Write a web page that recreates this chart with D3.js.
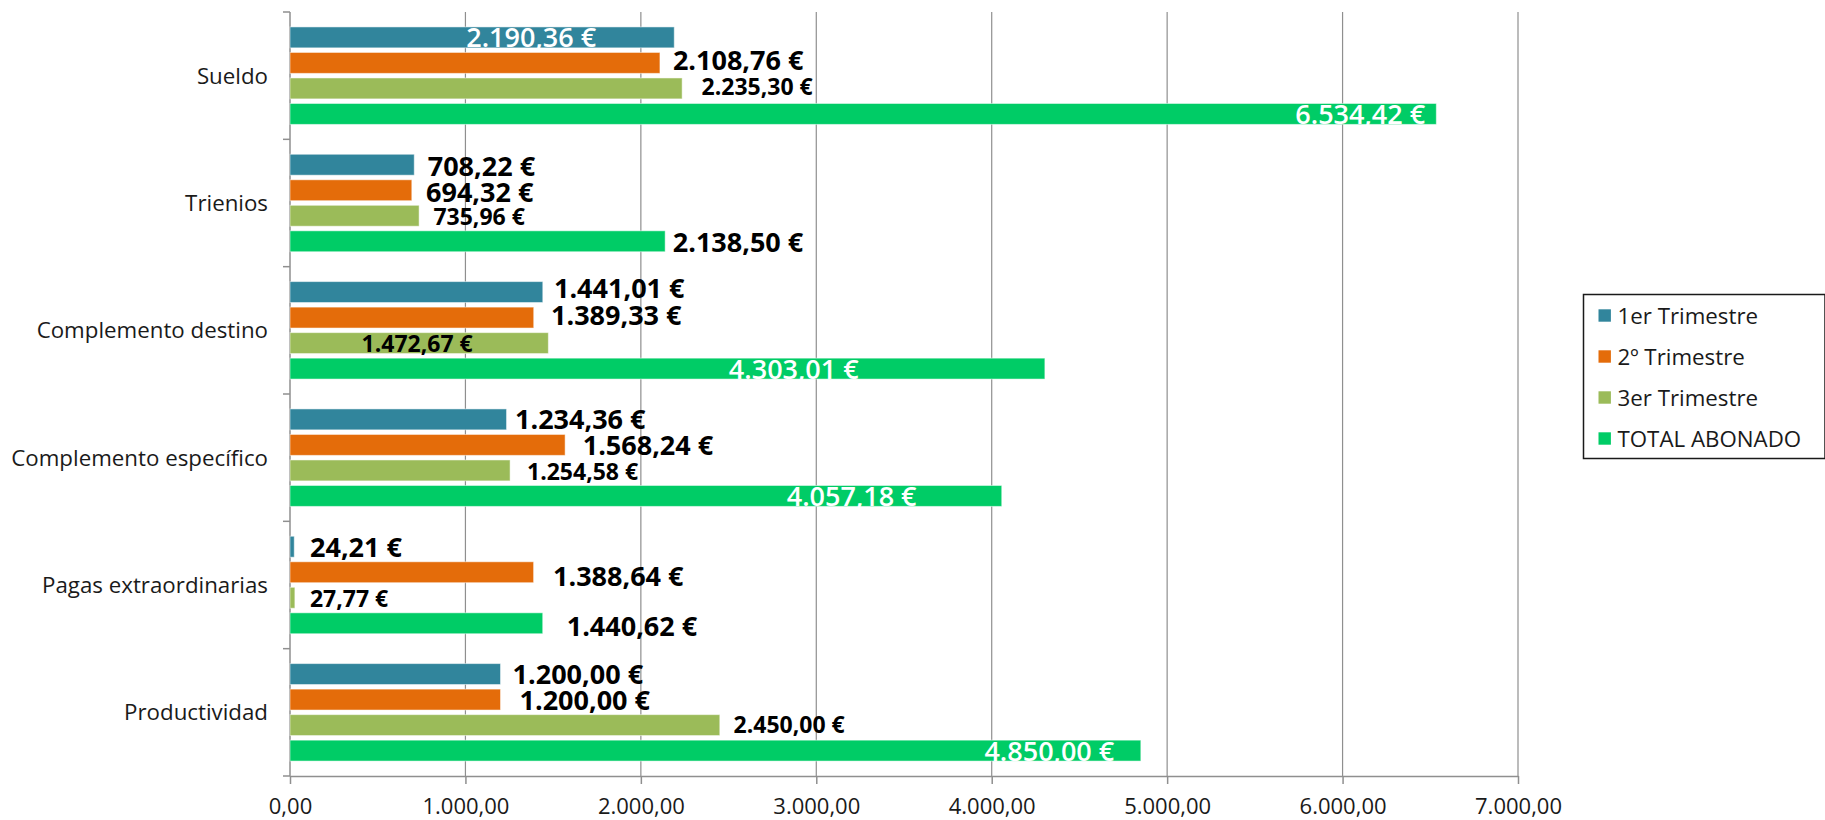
<!DOCTYPE html>
<html>
<head>
<meta charset="utf-8">
<script src="https://cdn.jsdelivr.net/npm/d3@7"></script>
<style>
  html, body { margin: 0; padding: 0; background: #ffffff; }
  svg { display: block; }
  text { font-family: "Open Sans", "Noto Sans", sans-serif; }
</style>
</head>
<body>
<svg id="chart" width="1825" height="820"></svg>
<script>
// ---- data ----
const categories = ["Sueldo", "Trienios", "Complemento destino", "Complemento específico", "Pagas extraordinarias", "Productividad"];
const seriesNames = ["1er Trimestre", "2º Trimestre", "3er Trimestre", "TOTAL ABONADO"];
const trimestre1 = [2190.36, 708.22, 1441.01, 1234.36, 24.21, 1200.00];
const trimestre2 = [2108.76, 694.32, 1389.33, 1568.24, 1388.64, 1200.00];
const trimestre3 = [2235.30, 735.96, 1472.67, 1254.58, 27.77, 2450.00];
const totalAbonado = [6534.42, 2138.50, 4303.01, 4057.18, 1440.62, 4850.00];
const xTicks = [0, 1000, 2000, 3000, 4000, 5000, 6000, 7000];

// ---- styling / layout (not data) ----
const seriesColors = ["#31859C", "#E46C0A", "#9BBB59", "#00CC66"];
// label placement: [dx from bar end to text start, dy from bar centre, white?]
const labelLayout = [
  [[-208, 0, 1], [13.5, 1.5, 0], [11.2, -3.3, 0], [8.5, 0, 0], [15.8, 0.8, 0], [12.1, 0.2, 0]],
  [[13, -2.7, 0], [14.2, 2, 0], [17.3, -2.5, 0], [17.6, 0.5, 0], [19.4, 3.6, 0], [19, 0.3, 0]],
  [[19.4, -1.5, 0], [14.3, 0.7, 0], [-186.8, 0.3, 0], [16.9, 1.5, 0], [15.1, 0.9, 0], [13.8, -0.3, 0]],
  [[-141, 0.5, 1], [7.6, 1.5, 0], [-316, 0.8, 1], [-215, 0.7, 1], [24, 3, 0], [-156.4, 0.8, 1]]
];

const seriesValues = [trimestre1, trimestre2, trimestre3, totalAbonado];
const rows = categories.map((c, i) => ({
  category: c,
  values: seriesNames.map((s, j) => ({ series: s, sIdx: j, cIdx: i, value: seriesValues[j][i] }))
}));

const loc = d3.formatLocale({ decimal: ",", thousands: ".", grouping: [3], currency: ["", " €"] });
const fmtTick = loc.format(",.2f");
const fmtEur = v => loc.format(",.2f")(v) + " €";

const svg = d3.select("#chart");
const plotLeft = 290, plotRight = 1518, plotTop = 12, plotBottom = 776;

const x = d3.scaleLinear().domain([0, 7000]).range([plotLeft, plotRight]);
const y0 = d3.scaleBand().domain(categories).range([plotTop, plotBottom]).padding(0);
const y1 = d3.scaleBand().domain(seriesNames).range([0, y0.bandwidth()]).paddingInner(0.18).paddingOuter(0.585);
const color = d3.scaleOrdinal().domain(seriesNames).range(seriesColors);

const gridColor = "#8f8f8f";

// vertical gridlines
svg.append("g").selectAll("line").data(xTicks.slice(1)).join("line")
  .attr("x1", d => x(d)).attr("x2", d => x(d))
  .attr("y1", plotTop).attr("y2", plotBottom)
  .attr("stroke", gridColor).attr("stroke-width", 1.2);

// bottom axis
const xAxis = d3.axisBottom(x).tickValues(xTicks).tickFormat(fmtTick).tickSizeInner(8).tickSizeOuter(0).tickPadding(14);
const gx = svg.append("g").attr("transform", `translate(0,${plotBottom})`).call(xAxis);
gx.select(".domain").attr("stroke", gridColor).attr("stroke-width", 1.5);
gx.selectAll(".tick line").attr("stroke", gridColor).attr("stroke-width", 1.5);
gx.selectAll(".tick text").attr("font-size", 22).attr("fill", "#1a1a1a").attr("font-family", '"Open Sans", sans-serif');

// left axis line with boundary ticks
const boundaries = categories.map(c => y0(c)).concat([plotBottom]);
svg.append("line").attr("x1", plotLeft).attr("x2", plotLeft).attr("y1", plotTop).attr("y2", plotBottom)
  .attr("stroke", gridColor).attr("stroke-width", 1.5);
svg.append("g").selectAll("line").data(boundaries).join("line")
  .attr("x1", plotLeft - 7).attr("x2", plotLeft).attr("y1", d => d).attr("y2", d => d)
  .attr("stroke", gridColor).attr("stroke-width", 1.5);

// category labels
svg.append("g").selectAll("text").data(categories).join("text")
  .attr("x", 268).attr("y", d => y0(d) + y0.bandwidth() / 2)
  .attr("dy", "0.36em").attr("text-anchor", "end")
  .attr("font-size", 22.3).attr("fill", "#1a1a1a").text(d => d);

// bars
const groups = svg.append("g").selectAll("g").data(rows).join("g")
  .attr("transform", d => `translate(0,${y0(d.category)})`);

groups.selectAll("rect").data(d => d.values).join("rect")
  .attr("x", x(0))
  .attr("y", d => y1(d.series))
  .attr("width", d => x(d.value) - x(0))
  .attr("height", y1.bandwidth())
  .attr("fill", d => color(d.series))
  .attr("stroke", "#ffffff").attr("stroke-opacity", 0.5).attr("stroke-width", 1);

// data labels
groups.selectAll("text").data(d => d.values).join("text")
  .attr("x", d => x(d.value) + labelLayout[d.sIdx][d.cIdx][0])
  .attr("y", d => y1(d.series) + y1.bandwidth() / 2 + labelLayout[d.sIdx][d.cIdx][1])
  .attr("dy", "0.36em")
  .attr("text-anchor", "start")
  .attr("font-size", d => d.sIdx === 2 ? 23 : 27)
  .attr("font-weight", d => labelLayout[d.sIdx][d.cIdx][2] ? 600 : 700)
  .attr("fill", d => labelLayout[d.sIdx][d.cIdx][2] ? "#ffffff" : "#000000")
  .text(d => fmtEur(d.value));

// legend
const legend = svg.append("g");
legend.append("rect").attr("x", 1583.5).attr("y", 294.5).attr("width", 241.5).attr("height", 164)
  .attr("fill", "#ffffff").attr("stroke", "#1a1a1a").attr("stroke-width", 1.5);
const li = legend.selectAll("g").data(seriesNames).join("g")
  .attr("transform", (d, i) => `translate(1598.5,${315.5 + i * 41})`);
li.append("rect").attr("x", 0).attr("y", -6.2).attr("width", 12.4).attr("height", 12.4).attr("fill", d => color(d));
li.append("text").attr("x", 19).attr("y", 0).attr("dy", "0.36em")
  .attr("font-size", 22.3).attr("fill", "#1a1a1a").text(d => d);
</script>
</body>
</html>
